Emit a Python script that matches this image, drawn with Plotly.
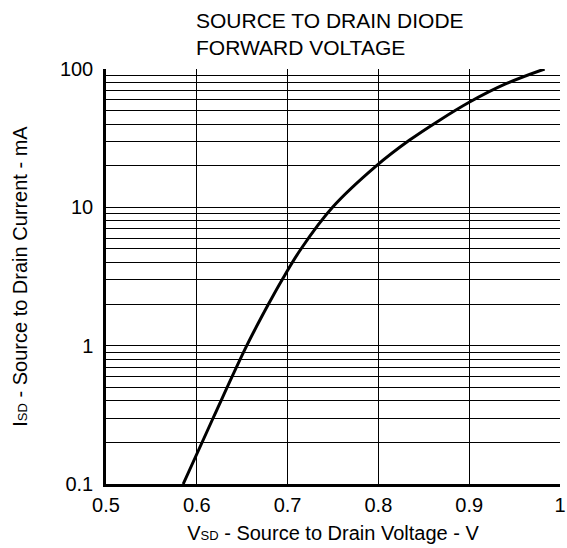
import plotly.graph_objects as go

# Data
v_sd = [0.585, 0.618, 0.655, 0.679, 0.694, 0.7147, 0.7495, 0.798,
        0.834, 0.867, 0.900, 0.940, 0.983]
i_sd = [0.1, 0.3, 1.0, 2.0, 3.0, 5.0, 10.0, 20.0,
        30.5, 42.5, 57.5, 78.0, 100.0]

x_ticks = [0.5, 0.6, 0.7, 0.8, 0.9, 1.0]
x_tick_text = ["0.5", "0.6", "0.7", "0.8", "0.9", "1"]
y_ticks = [0.1, 1, 10, 100]
y_tick_text = ["0.1", "1", "10", "100"]
y_minor = [m * d for d in (0.1, 1, 10) for m in range(2, 10)]

FONT = "Liberation Sans, Arial, sans-serif"

fig = go.Figure()
fig.add_trace(go.Scatter(
    x=v_sd, y=i_sd, mode="lines",
    line=dict(color="black", width=3, shape="spline", smoothing=1.0),
    hoverinfo="skip", showlegend=False,
))

fig.update_layout(
    width=567, height=548,
    margin=dict(l=106, r=7, t=69, b=64),
    paper_bgcolor="white", plot_bgcolor="white",
    font=dict(family=FONT, size=20, color="black"),
    title=dict(
        text="SOURCE TO DRAIN DIODE<br>FORWARD VOLTAGE",
        x=196 / 567, xanchor="left", xref="container",
        y=1 - 28 / 548, yanchor="top", yref="container",
        font=dict(family=FONT, size=21, color="black"),
    ),
    showlegend=False,
)

fig.update_xaxes(
    range=[0.5, 1.0], tickmode="array", tickvals=x_ticks, ticktext=x_tick_text,
    showgrid=True, gridcolor="black", gridwidth=1,
    showline=True, linecolor="black", linewidth=2.5, mirror=False,
    ticks="", ticklabelstandoff=1, zeroline=False,
    tickfont=dict(size=20),
    title=dict(text='V<span style="font-size:13px">SD</span> - Source to Drain Voltage - V',
               standoff=12, font=dict(size=20)),
    automargin=False,
)

fig.update_yaxes(
    type="log", range=[-1, 2], tickmode="array", tickvals=y_ticks, ticktext=y_tick_text,
    showgrid=True, gridcolor="black", gridwidth=1,
    minor=dict(tickmode="array", tickvals=y_minor, showgrid=True,
               gridcolor="black", gridwidth=1, ticks=""),
    showline=True, linecolor="black", linewidth=2.5, mirror=False,
    ticks="", ticklabelstandoff=6, zeroline=False,
    tickfont=dict(size=20),
    title=dict(text='I<span style="font-size:13px">SD</span> - Source to Drain Current - mA',
               standoff=27, font=dict(size=20)),
    automargin=False,
)

fig.write_html(
    "out.html",
    config={"displayModeBar": False},
    post_script="document.body.style.margin='0';document.body.style.padding='0';",
)
